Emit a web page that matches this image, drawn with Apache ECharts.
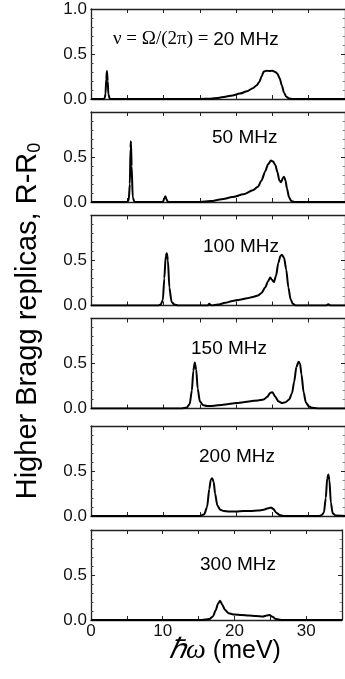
<!DOCTYPE html>
<html><head><meta charset="utf-8">
<script src="https://cdn.jsdelivr.net/npm/echarts@6/dist/echarts.min.js"></script>
<style>html,body{margin:0;padding:0;background:#fff}#c{width:345px;height:679px}</style>
</head><body><div id="c"></div>
<script>
// Panel labels (modulation frequency)
const freqLabels = ["20 MHz", "50 MHz", "100 MHz", "150 MHz", "200 MHz", "300 MHz"];
// x axis (ħω, meV) and y axis (R-R0) tick labels
const xTicks = [0, 10, 20, 30];
const yTicks = [0.0, 0.5, 1.0];

const x1 = [0, 1.7, 1.9, 2.0, 2.1, 2.2, 2.3, 2.4, 2.6, 15, 16.5, 17.5, 18.5, 19.5, 20.5, 21.5, 22.3, 22.8, 23.2, 23.5, 23.8, 24.2, 24.6, 25.0, 25.4, 25.7, 26.0, 26.3, 26.6, 26.9, 27.3, 27.8, 35];
const y1 = [0, 0, 0.01, 0.06, 0.22, 0.31, 0.2, 0.05, 0, 0, 0.003, 0.012, 0.025, 0.04, 0.06, 0.085, 0.12, 0.15, 0.19, 0.25, 0.305, 0.315, 0.31, 0.315, 0.3, 0.28, 0.23, 0.15, 0.07, 0.025, 0.006, 0, 0];

const x2 = [0, 5.0, 5.2, 5.35, 5.45, 5.5, 5.6, 5.75, 6.0, 9.9, 10.1, 10.25, 10.4, 10.6, 15, 16.5, 18, 19.5, 21, 22.3, 23, 23.5, 24, 24.4, 24.8, 25.1, 25.4, 25.7, 25.95, 26.2, 26.45, 26.6, 26.8, 27.0, 27.3, 27.6, 28, 35];
const y2 = [0, 0, 0.02, 0.2, 0.6, 0.675, 0.4, 0.05, 0, 0, 0.04, 0.063, 0.03, 0, 0, 0.01, 0.03, 0.055, 0.085, 0.13, 0.17, 0.24, 0.34, 0.42, 0.46, 0.45, 0.41, 0.33, 0.24, 0.22, 0.27, 0.28, 0.24, 0.15, 0.05, 0.012, 0, 0];

const x3 = [0, 9.2, 9.6, 9.9, 10.1, 10.3, 10.45, 10.6, 10.8, 11.1, 11.5, 12, 16.1, 16.3, 16.5, 16.7, 17.5, 18.5, 19.5, 20.5, 21.5, 22.3, 23, 23.5, 24, 24.4, 24.7, 24.9, 25.2, 25.5, 25.8, 26.1, 26.3, 26.6, 26.9, 27.2, 27.5, 27.8, 28.2, 32.4, 32.7, 33, 35];
const y3 = [0, 0, 0.01, 0.06, 0.3, 0.55, 0.58, 0.5, 0.2, 0.04, 0.01, 0, 0, 0.02, 0.005, 0, 0.01, 0.03, 0.05, 0.065, 0.08, 0.095, 0.11, 0.14, 0.2, 0.27, 0.31, 0.29, 0.26, 0.33, 0.47, 0.55, 0.565, 0.53, 0.4, 0.2, 0.07, 0.02, 0, 0, 0.015, 0, 0];

const x4 = [0, 12.5, 13.2, 13.6, 13.9, 14.1, 14.3, 14.5, 14.7, 15.0, 15.4, 16, 17, 18, 19, 20, 21, 22, 23, 23.8, 24.3, 24.7, 25.0, 25.4, 25.8, 26.3, 26.8, 27.3, 27.7, 28.0, 28.3, 28.6, 28.8, 29.0, 29.3, 29.6, 30, 30.5, 31.5, 35];
const y4 = [0, 0, 0.01, 0.05, 0.2, 0.42, 0.51, 0.43, 0.22, 0.08, 0.04, 0.028, 0.03, 0.04, 0.05, 0.06, 0.07, 0.08, 0.09, 0.1, 0.13, 0.175, 0.18, 0.13, 0.08, 0.06, 0.07, 0.1, 0.17, 0.3, 0.46, 0.52, 0.5, 0.38, 0.18, 0.07, 0.025, 0.008, 0, 0];

const x5 = [0, 15.0, 15.6, 16.0, 16.3, 16.5, 16.7, 16.9, 17.1, 17.4, 17.8, 18.3, 19, 20, 21, 22, 23, 23.8, 24.4, 24.8, 25.1, 25.5, 26, 26.5, 31.4, 31.8, 32.1, 32.35, 32.55, 32.7, 32.85, 33.05, 33.3, 33.7, 35];
const y5 = [0, 0, 0.02, 0.1, 0.3, 0.4, 0.42, 0.38, 0.25, 0.12, 0.07, 0.055, 0.05, 0.05, 0.055, 0.055, 0.06, 0.07, 0.085, 0.095, 0.08, 0.04, 0.01, 0, 0, 0.01, 0.04, 0.2, 0.42, 0.46, 0.4, 0.15, 0.03, 0.005, 0];

const x6 = [0, 15.5, 16.5, 17.0, 17.4, 17.7, 18.0, 18.3, 18.7, 19.2, 20, 21, 22, 23, 24, 24.5, 24.9, 25.3, 25.8, 26.5, 35];
const y6 = [0, 0, 0.01, 0.04, 0.11, 0.18, 0.215, 0.17, 0.11, 0.075, 0.06, 0.055, 0.05, 0.045, 0.04, 0.05, 0.055, 0.035, 0.01, 0, 0];

const xs = [x1, x2, x3, x4, x5, x6];
const ys = [y1, y2, y3, y4, y5, y6];

// layout
const gridTops = [9, 112, 215.5, 318.5, 426, 530];
const gridH = 90;
const labelPos = [[108, 25], [207, 123], [198, 232], [186, 334], [194, 442], [195, 550]];

const SANS = '"Liberation Sans", Arial, sans-serif';
const SERIF = '"Liberation Serif", "Times New Roman", serif';
const frame = {show: true, onZero: false, lineStyle: {color: '#222', width: 1.3}};

const grid = [], xAxis = [], yAxis = [], series = [], title = [];
for (let i = 0; i < 6; i++) {
  grid.push({left: 91, right: -4, top: gridTops[i], height: gridH, containLabel: false});
  const last = i === 5;
  xAxis.push({
    type: 'value', gridIndex: i, min: 0, max: 35, interval: 5, position: 'bottom',
    axisLine: frame, splitLine: {show: false},
    axisTick: {show: true, inside: true, length: 4, lineStyle: {color: '#222', width: 1}},
    axisLabel: {show: last, margin: 3, color: '#111', fontFamily: SANS, fontSize: 17,
      formatter: v => xTicks.indexOf(v) >= 0 ? String(v) : ''}
  });
  xAxis.push({
    type: 'value', gridIndex: i, min: 0, max: 35, interval: 5, position: 'top',
    axisLine: frame, splitLine: {show: false},
    axisTick: {show: true, inside: true, length: 4, lineStyle: {color: '#222', width: 1}},
    axisLabel: {show: false}
  });
  yAxis.push({
    type: 'value', gridIndex: i, min: 0, max: 1, interval: 0.5, position: 'left',
    axisLine: frame, splitLine: {show: false},
    axisTick: {show: true, inside: true, length: 4, lineStyle: {color: '#222', width: 1}},
    minorTick: {show: true, splitNumber: 5, length: 2.5, lineStyle: {color: '#444', width: 1}},
    minorSplitLine: {show: false},
    axisLabel: {margin: 4, color: '#111', fontFamily: SANS, fontSize: 17,
      formatter: v => (i > 0 && v === yTicks[2]) ? '' : (yTicks.indexOf(v) >= 0 ? v.toFixed(1) : '')}
  });
  yAxis.push({
    type: 'value', gridIndex: i, min: 0, max: 1, interval: 0.5, position: 'right',
    axisLine: frame, splitLine: {show: false},
    axisTick: {show: true, inside: true, length: 4, lineStyle: {color: '#222', width: 1}},
    minorTick: {show: true, splitNumber: 5, length: 2.5, lineStyle: {color: '#888', width: 1}},
    axisLabel: {show: false}
  });
  series.push({
    type: 'line', xAxisIndex: 2 * i, yAxisIndex: 2 * i,
    data: xs[i].map((x, k) => [x, ys[i][k]]),
    showSymbol: false, symbol: 'none', smooth: 0.25, smoothMonotone: 'x', clip: true,
    lineStyle: {color: '#000', width: 2}, z: 5, animation: false
  });
  if (i === 0) {
    title.push({left: labelPos[i][0], top: labelPos[i][1],
      text: '{a|ν = Ω/(2π) = }{b|' + freqLabels[i] + '}',
      textStyle: {fontWeight: 'normal', rich: {
        a: {fontFamily: SERIF, fontSize: 19, fontWeight: 'normal', color: '#000'},
        b: {fontFamily: SANS, fontSize: 19, fontWeight: 'normal', color: '#000'}
      }}});
  } else {
    title.push({left: labelPos[i][0], top: labelPos[i][1], text: freqLabels[i],
      textStyle: {fontFamily: SANS, fontSize: 19, fontWeight: 'normal', color: '#000'}});
  }
}

const chart = echarts.init(document.getElementById('c'), null, {renderer: 'canvas'});
chart.setOption({
  animation: false,
  backgroundColor: '#fff',
  title, grid, xAxis, yAxis, series,
  graphic: [
    {type: 'text', x: 28, y: 321, rotation: Math.PI / 2,
      style: {text: 'Higher Bragg replicas, R-R{s|0}', fill: '#000',
        font: '29px "Liberation Sans", Arial, sans-serif', align: 'center', verticalAlign: 'middle',
        rich: {s: {fontSize: 18, fontFamily: SANS, verticalAlign: 'bottom', padding: [14, 0, 0, 0]}}}},
    {type: 'text', x: 225, y: 651,
      style: {text: '{h|ℏω}{t| (meV)}', fill: '#000', align: 'center', verticalAlign: 'middle',
        rich: {h: {fontFamily: SERIF, fontStyle: 'italic', fontSize: 28},
               t: {fontFamily: SANS, fontSize: 25}}}}
  ]
});
</script>
</body></html>
